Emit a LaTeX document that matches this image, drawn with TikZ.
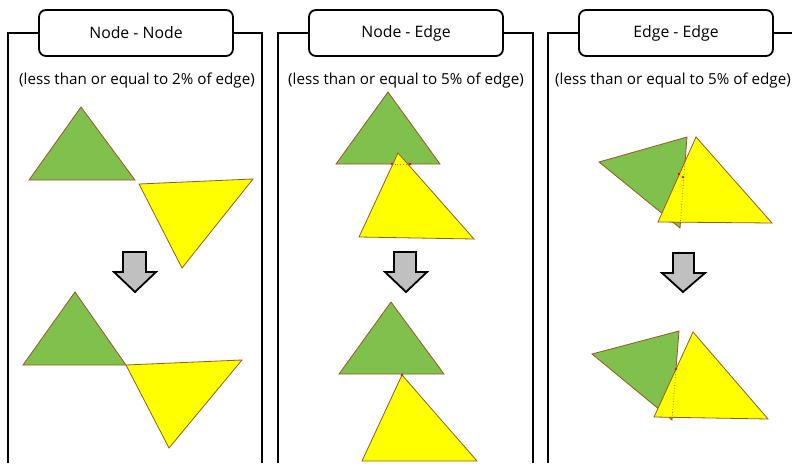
\documentclass[tikz,border=0pt]{standalone}
\usepackage{fontspec}
\setmainfont{Open Sans}
\begin{document}
\begin{tikzpicture}[x=1pt,y=-1pt,
  frame/.style={line width=2.2pt,black},
  titlebox/.style={draw=black,line width=1.8pt,rounded corners=7pt,fill=white,minimum width=194pt,minimum height=46pt,inner sep=0pt,font=\fontsize{15.8}{18}\selectfont},
  subtitle/.style={inner sep=0pt,font=\fontsize{15.2}{18}\selectfont},
  gtri/.style={fill=triGreen,draw=triEdge,line width=0.8pt,line join=miter},
  ytri/.style={fill=triYellow,draw=triEdge,line width=0.8pt,line join=miter},
  downarrow/.style={fill=arrowGray,draw=black,line width=1.8pt,line join=miter},
  hidden/.style={draw=triEdge!80!red,line width=0.7pt,dotted},
  reddot/.style={fill=red,draw=none}
]
\definecolor{triGreen}{RGB}{128,192,76}
\definecolor{triYellow}{RGB}{255,255,0}
\definecolor{triEdge}{RGB}{150,90,40}
\definecolor{arrowGray}{RGB}{192,192,192}
\useasboundingbox (0,0) rectangle (792,463);
\fill[white] (0,0) rectangle (792,463);

% ---------- Panel 1 ----------
\node[titlebox] (t1) at (136,33) {Node - Node};
\draw[frame] (t1.west) -- (8,33) -- (8,463);
\draw[frame] (t1.east) -- (262,33) -- (262,463);
\node[subtitle] (s1) at (137,81) {(less than or equal to 2\% of edge)};
\draw[gtri] (29,180) -- (135,180) -- (81,107) -- cycle;
\draw[ytri] (139,184) -- (253,179) -- (182,268) -- cycle;
\draw[downarrow] (123,252) -- (146,252) -- (146,272) -- (156,272) -- (135,292) -- (114,272) -- (123,272) -- cycle;
\draw[gtri] (23,365) -- (126,365) -- (75,292) -- cycle;
\draw[ytri] (126,365) -- (242,360) -- (169,448) -- cycle;

% ---------- Panel 2 ----------
\node[titlebox] (t2) at (406,33) {Node - Edge};
\draw[frame] (t2.west) -- (278,33) -- (278,463);
\draw[frame] (t2.east) -- (533,33) -- (533,463);
\node[subtitle] (s2) at (406,81) {(less than or equal to 5\% of edge)};
\draw[gtri] (336,164) -- (440,164) -- (388,92) -- cycle;
\draw[ytri] (398,153) -- (474,239) -- (359,237) -- cycle;
\draw[hidden,draw=red!70] (392,164) -- (410,164);
\fill[reddot] (392,164) circle (1.4pt);
\fill[reddot] (410,164) circle (1.4pt);
\draw[downarrow] (394,252) -- (416,252) -- (416,272) -- (427,272) -- (406,292) -- (385,272) -- (394,272) -- cycle;
\draw[gtri] (339,374) -- (444,374) -- (391,302) -- cycle;
\draw[ytri] (402,375) -- (477,461) -- (362,461) -- cycle;
\fill[reddot] (402,375) circle (1.4pt);

% ---------- Panel 3 ----------
\node[titlebox] (t3) at (676,33) {Edge - Edge};
\draw[frame] (t3.west) -- (548,33) -- (548,463);
\draw[frame] (t3.east) -- (793,33);
\node[subtitle,anchor=east] (s3) at (791,81) {(less than or equal to 5\% of edge)};
\draw[gtri] (599,162) -- (687,137) -- (680,228) -- cycle;
\draw[ytri] (696,137) -- (772,223) -- (658,222) -- cycle;
\draw[hidden] (685,161) -- (680,228);
\fill[reddot] (679,174) circle (1.3pt);
\fill[reddot] (683,177) circle (1.3pt);
\draw[downarrow] (673,253) -- (694,253) -- (694,273) -- (705,273) -- (683,292) -- (662,273) -- (673,273) -- cycle;
\draw[gtri] (592,354) -- (679,331) -- (672,420) -- cycle;
\draw[ytri] (693,332) -- (768,419) -- (654,417) -- cycle;
\draw[hidden] (676,369) -- (672,420);
\fill[reddot] (676,369) circle (1.3pt);
\end{tikzpicture}
\end{document}
